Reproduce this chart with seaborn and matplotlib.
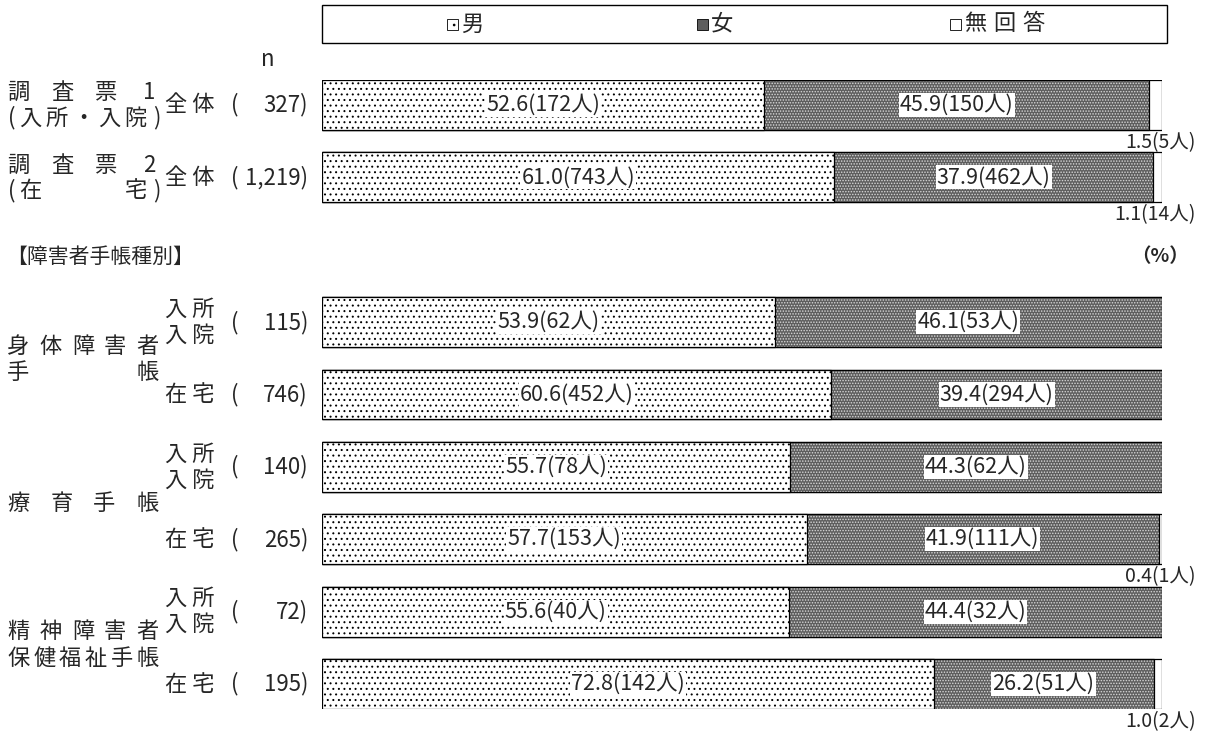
import matplotlib
matplotlib.use("Agg")
import matplotlib.pyplot as plt
import matplotlib.patches as mpatches
from matplotlib.transforms import blended_transform_factory
import seaborn as sns
import pandas as pd

sns.set_theme(style="white")
plt.rcParams['font.family'] = ['Noto Sans CJK JP', 'DejaVu Sans']
plt.rcParams['hatch.linewidth'] = 0.7

# ---- data ----
positions = [0, 1, 3, 4, 5, 6, 7, 8]
sub_labels = ["全体", "全体", "入所\n入院", "在宅", "入所\n入院", "在宅", "入所\n入院", "在宅"]
n_values = ["327", "1,219", "115", "746", "140", "265", "72", "195"]
male = [52.6, 61.0, 53.9, 60.6, 55.7, 57.7, 55.6, 72.8]
female = [45.9, 37.9, 46.1, 39.4, 44.3, 41.9, 44.4, 26.2]
no_answer = [1.5, 1.1, 0.0, 0.0, 0.0, 0.4, 0.0, 1.0]
male_n = [172, 743, 62, 452, 78, 153, 40, 142]
female_n = [150, 462, 53, 294, 62, 111, 32, 51]
no_answer_n = [5, 14, 0, 0, 0, 1, 0, 2]
legend_labels = ["男", "女", "無回答"]

df = pd.DataFrame({
    "pos": positions,
    "male": male,
    "female": female,
    "na": no_answer,
})
df["cum_female"] = df["male"] + df["female"]
df["cum_all"] = df["cum_female"] + df["na"]

W, H = 1205, 734
fig = plt.figure(figsize=(W / 100, H / 100), dpi=100)
x0, x1 = 322, 1162
ytop, ybot = 80, 709
ax = fig.add_axes([x0 / W, 1 - ybot / H, (x1 - x0) / W, (ybot - ytop) / H])

bw = 0.69
male_style = dict(facecolor="white", edgecolor="black", hatch="...", linewidth=0.9)
female_fill = dict(facecolor="#5e5e5e", edgecolor="#d8d8d8", hatch="......", linewidth=0)
outline = dict(facecolor="none", edgecolor="black", linewidth=0.9)
na_style = dict(facecolor="white", edgecolor="black", linewidth=0.9)

sns.barplot(data=df, x="cum_all", y="pos", orient="h", native_scale=True,
            width=bw, errorbar=None, ax=ax, **na_style)
sns.barplot(data=df, x="cum_female", y="pos", orient="h", native_scale=True,
            width=bw, errorbar=None, ax=ax, **female_fill)
sns.barplot(data=df, x="cum_female", y="pos", orient="h", native_scale=True,
            width=bw, errorbar=None, ax=ax, **outline)
sns.barplot(data=df, x="male", y="pos", orient="h", native_scale=True,
            width=bw, errorbar=None, ax=ax, **male_style)

ax.set_xlim(0, 100)
ax.set_ylim(8 + bw / 2, -bw / 2)
ax.set_axis_off()

fs = 15.5
box = dict(facecolor="white", edgecolor="none", pad=0.8)
for i, p in enumerate(positions):
    ax.text(male[i] / 2, p, f"{male[i]:.1f}({male_n[i]}人)", ha="center", va="center",
            fontsize=fs, bbox=box)
    ax.text(male[i] + female[i] / 2, p, f"{female[i]:.1f}({female_n[i]}人)", ha="center",
            va="center", fontsize=fs, bbox=box)
    if no_answer[i] > 0:
        ax.text(104.0, p + bw / 2 + 0.17, f"{no_answer[i]:.1f}({no_answer_n[i]}人)",
                ha="right", va="center", fontsize=fs - 1.5, clip_on=False)

# left labels
tr = blended_transform_factory(fig.transFigure, ax.transData)
lfs = 16
for i, p in enumerate(positions):
    lab = sub_labels[i]
    if "\n" in lab:
        a, b = lab.split("\n")
        ax.text(165 / W, p - 0.18, " ".join(a), transform=tr, ha="left", va="center", fontsize=lfs)
        ax.text(165 / W, p + 0.18, " ".join(b), transform=tr, ha="left", va="center", fontsize=lfs)
    else:
        ax.text(165 / W, p, " ".join(lab), transform=tr, ha="left", va="center", fontsize=lfs)
    ax.text(231 / W, p, "(", transform=tr, ha="left", va="center", fontsize=lfs)
    ax.text(308 / W, p, n_values[i] + ")", transform=tr, ha="right", va="center", fontsize=lfs)


def spread(text, xa, xb, y, paren=False):
    if paren:
        ax.text(xa / W, y, "(", transform=tr, ha="left", va="center", fontsize=lfs)
        ax.text(xb / W, y, ")", transform=tr, ha="right", va="center", fontsize=lfs)
        xa, xb = xa + 12, xb - 14
    chars = list(text)
    cw = 21
    step = (xb - xa - cw) / (len(chars) - 1)
    for k, c in enumerate(chars):
        ax.text((xa + cw / 2 + k * step) / W, y, c, transform=tr, ha="center",
                va="center", fontsize=lfs)


spread("調査票1", 8, 160, 0 - 0.17)
spread("入所・入院", 8, 160, 0 + 0.18, paren=True)
spread("調査票2", 8, 160, 1 - 0.17)
spread("在宅", 8, 160, 1 + 0.18, paren=True)
spread("身体障害者", 8, 158, 3.33)
spread("手帳", 8, 158, 3.70)
spread("療育手帳", 8, 158, 5.5)
spread("精神障害者", 8, 158, 7.28)
spread("保健福祉手帳", 8, 158, 7.65)

fig.text(268 / W, 1 - 60 / H, "n", ha="center", va="center", fontsize=lfs)
fig.text(6 / W, 1 - 257 / H, "【障害者手帳種別】", ha="left", va="center", fontsize=15)
fig.text(1160 / W, 1 - 257 / H, "（%）", ha="center", va="center", fontsize=14,
         fontweight="bold")

# legend frame
fig.patches.append(mpatches.Rectangle((322 / W, 1 - 43 / H), (1167 - 322) / W, 38 / H,
                                      transform=fig.transFigure, facecolor="white",
                                      edgecolor="black", linewidth=1.0))
lx = [447, 697, 950]
leg_styles = [
    dict(facecolor="white", edgecolor="black", hatch="..", linewidth=0.6),
    dict(facecolor="#5e5e5e", edgecolor="black", linewidth=0.6),
    dict(facecolor="white", edgecolor="black", linewidth=0.6),
]
for k in range(3):
    fig.patches.append(mpatches.Rectangle((lx[k] / W, 1 - 30 / H), 11 / W, 11 / H,
                                          transform=fig.transFigure, **leg_styles[k]))
    for j, ch in enumerate(legend_labels[k]):
        fig.text((lx[k] + 14 + j * 29) / W, 1 - 24 / H, ch, ha="left", va="center",
                 fontsize=lfs)

fig.savefig("out.png", dpi=100)
